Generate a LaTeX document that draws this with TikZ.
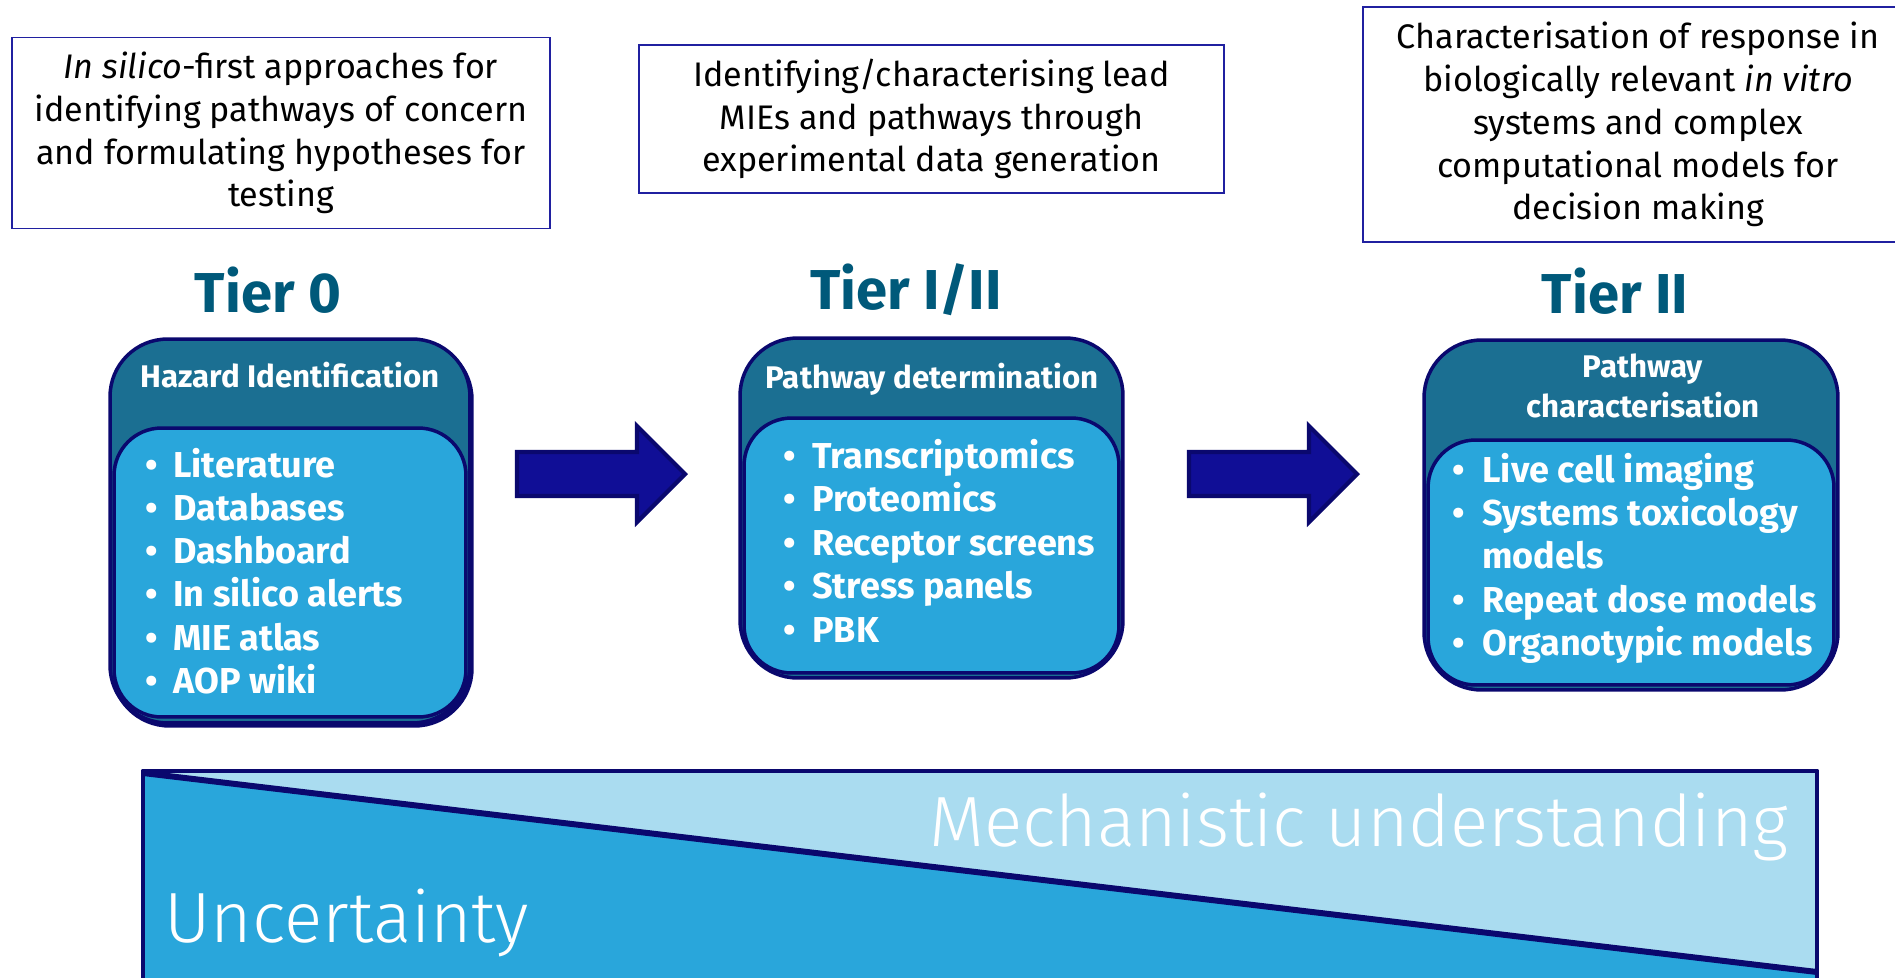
\documentclass[tikz,border=0pt]{standalone}
\usepackage{fontspec}
\setmainfont{Fira Sans}
\newfontfamily\lightfont{Fira Sans Light}
\definecolor{navy}{HTML}{0A086E}
\definecolor{boxline}{HTML}{2020A0}
\definecolor{header}{HTML}{1B6F92}
\definecolor{inner}{HTML}{29A6DB}
\definecolor{tiertext}{HTML}{00597A}
\definecolor{arrowfill}{HTML}{100E96}
\definecolor{lightbg}{HTML}{AADCF0}
\begin{document}
\begin{tikzpicture}[x=0.02cm,y=-0.02cm,
  desc/.style={draw=boxline, line width=1.1pt, inner sep=0pt, align=center, text=black,
    font=\fontsize{19.4}{24.4}\selectfont},
  tiertitle/.style={anchor=base, inner sep=0pt, text=tiertext, font=\bfseries\fontsize{32}{36}\selectfont},
  outerbox/.style={draw=navy, fill=header, line width=2pt, rounded corners=1.15cm},
  innerbox/.style={draw=navy, fill=inner, line width=2pt, rounded corners=0.95cm},
  headtxt/.style={anchor=base, inner sep=0pt, text=white, font=\bfseries\fontsize{17.8}{22.7}\selectfont},
  itemtxt/.style={anchor=base west, inner sep=0pt, text=white, font=\bfseries\fontsize{20.5}{24}\selectfont},
  bul/.style={anchor=base, inner sep=0pt, text=white, font=\bfseries\fontsize{20.5}{24}\selectfont},
  blockarrow/.style={fill=arrowfill, draw=navy, line width=2.4pt, line join=miter},
  bigtxt/.style={anchor=base west, inner sep=0pt, text=white, font=\lightfont\fontsize{40.5}{48}\selectfont}]
\useasboundingbox (0,0) rectangle (1895,977);
\clip (0,0) rectangle (1895,977);

% descriptions above each tier
\node[desc, minimum width=10.76cm, minimum height=3.82cm] (d0) at (281,133)
  {\textit{In silico}-first approaches for\\identifying pathways of concern\\and formulating hypotheses for\\testing};
\node[desc, minimum width=11.7cm, minimum height=2.96cm] (d1) at (931.5,119)
  {Identifying/characterising lead\\MIEs and pathways through\\experimental data generation};
\node[desc, minimum width=11cm, minimum height=4.7cm] (d2) at (1638,124.5)
  {Characterisation of response in\\biologically relevant \textit{in vitro}\\systems and complex\\computational models for\\decision making};

% tier titles
\node[tiertitle] (t0) at (268,312) {Tier 0};
\node[tiertitle] (t1) at (906,309) {Tier I/II};
\node[tiertitle] (t2) at (1615,313) {Tier II};

% tier 0 box (with its slightly offset lower edge)
\node[outerbox, fill=navy, minimum width=7.2cm, minimum height=7.68cm] (shA) at (292,534) {};
\node[outerbox, minimum width=7.2cm, minimum height=7.68cm] (boxA) at (290,531) {};
\node[innerbox, minimum width=7.04cm, minimum height=5.78cm] (inA) at (290,572.5) {};
\node[headtxt] (hA) at (290,387) {Hazard Identification};
\foreach \t [count=\i] in {Literature,Databases,Dashboard,In silico alerts,MIE atlas,AOP wiki}{
  \node[bul] (bA\i) at (152,{477+43.3*(\i-1)}) {•};
  \node[itemtxt] (iA\i) at (173,{477+43.3*(\i-1)}) {\t};
}

% tier I/II box
\node[outerbox, minimum width=7.66cm, minimum height=6.8cm] (boxB) at (931.5,508) {};
\node[innerbox, minimum width=7.5cm, minimum height=5.1cm] (inB) at (931.5,545.5) {};
\node[headtxt] (hB) at (932,388) {Pathway determination};
\foreach \t [count=\i] in {Transcriptomics,Proteomics,Receptor screens,Stress panels,PBK}{
  \node[bul] (bB\i) at (790,{468+43.5*(\i-1)}) {•};
  \node[itemtxt] (iB\i) at (812,{468+43.5*(\i-1)}) {\t};
}

% tier II box
\node[outerbox, minimum width=8.28cm, minimum height=7cm] (boxC) at (1631,515) {};
\node[innerbox, minimum width=8.12cm, minimum height=4.9cm] (inC) at (1631,562.5) {};
\node[headtxt] (hC1) at (1643,377) {Pathway};
\node[headtxt] (hC2) at (1643,417) {characterisation};
\node[bul] (bC1) at (1459,482) {•};
\node[itemtxt] (iC1) at (1482,482) {Live cell imaging};
\node[bul] (bC2) at (1459,525) {•};
\node[itemtxt] (iC2) at (1482,525) {Systems toxicology};
\node[itemtxt] (iC2b) at (1482,568) {models};
\node[bul] (bC3) at (1459,612) {•};
\node[itemtxt] (iC3) at (1482,612) {Repeat dose models};
\node[bul] (bC4) at (1459,655) {•};
\node[itemtxt] (iC4) at (1482,655) {Organotypic models};

% block arrows between tiers
\draw[blockarrow] (517,452) -- (637,452) -- (637,426) -- (685,474) -- (637,522) -- (637,496) -- (517,496) -- cycle;
\draw[blockarrow] (1189,452) -- (1309,452) -- (1309,426) -- (1357,474) -- (1309,522) -- (1309,496) -- (1189,496) -- cycle;

% uncertainty / understanding band
\fill[lightbg] (143,771) rectangle (1817,990);
\fill[inner] (143,773) -- (1817,972) -- (1817,990) -- (143,990) -- cycle;
\draw[navy, line width=3.4pt] (143,773) -- (1817,972);
\draw[navy, line width=2.8pt, line join=round] (143,990) -- (143,771) -- (1817,771) -- (1817,990);
\node[bigtxt] (mech) at (929,846) {Mechanistic understanding};
\node[bigtxt] (unc) at (164,942) {Uncertainty};
\end{tikzpicture}
\end{document}
